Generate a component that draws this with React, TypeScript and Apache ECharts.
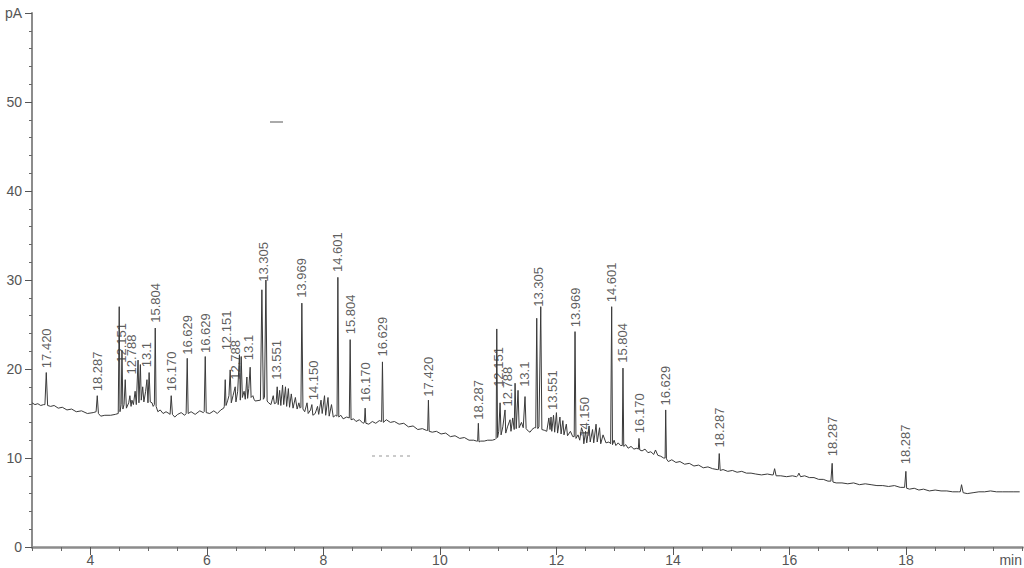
import React, { useEffect, useRef } from "react";
import * as echarts from "echarts";

// Detector signal (pA) vs retention time (min)
const trace: [number, number][] = [
  [3.0, 16.2], [3.05, 16.0], [3.1, 16.1], [3.15, 15.9], [3.2, 16.0],
  [3.222, 16.0], [3.245, 19.6], [3.268, 15.9],
  [3.32, 15.8], [3.38, 15.9], [3.45, 15.6], [3.52, 15.7], [3.6, 15.4], [3.68, 15.5], [3.76, 15.2], [3.85, 15.3], [3.95, 15.0], [4.05, 15.1],
  [4.1, 15.2], [4.12, 17.0], [4.14, 15.0],
  [4.18, 14.7], [4.25, 14.8], [4.35, 14.8], [4.43, 14.9],
  [4.48, 15.0], [4.497, 27.0], [4.51, 15.2], [4.53, 16.0], [4.544, 22.1], [4.56, 15.5], [4.58, 16.0], [4.6, 18.8], [4.62, 15.6],
  [4.66, 16.2], [4.68, 17.0], [4.7, 15.8], [4.715, 16.5], [4.74, 16.0], [4.77, 17.5], [4.79, 16.0], [4.82, 21.0], [4.835, 16.2],
  [4.86, 20.5], [4.875, 16.5], [4.9, 18.0], [4.92, 16.3], [4.95, 17.5], [4.973, 18.8], [4.99, 16.2], [5.01, 19.6], [5.03, 16.3],
  [5.06, 16.2], [5.08, 15.8],
  [5.1, 16.0], [5.115, 24.6], [5.13, 15.8],
  [5.16, 15.2], [5.2, 15.4], [5.25, 15.0], [5.3, 15.2], [5.35, 15.0],
  [5.37, 14.9], [5.389, 17.0], [5.41, 14.9],
  [5.45, 14.6], [5.5, 14.9], [5.56, 15.1], [5.62, 14.8],
  [5.645, 15.0], [5.664, 21.2], [5.68, 15.0],
  [5.73, 15.2], [5.8, 14.9], [5.88, 15.3], [5.94, 15.1],
  [5.955, 15.2], [5.973, 21.4], [5.99, 15.1],
  [6.05, 15.0], [6.12, 15.3], [6.18, 15.0], [6.24, 15.4], [6.29, 15.6],
  [6.3, 15.8], [6.316, 18.8], [6.33, 15.9], [6.36, 16.5], [6.38, 17.0], [6.401, 19.9], [6.42, 16.2], [6.45, 17.0], [6.487, 18.0],
  [6.5, 16.3], [6.53, 17.5], [6.56, 21.6], [6.575, 16.5], [6.59, 21.4], [6.61, 16.8], [6.64, 17.5], [6.66, 16.6], [6.688, 19.1],
  [6.7, 16.7], [6.72, 17.8], [6.744, 20.2], [6.76, 16.8], [6.79, 17.0], [6.81, 16.6], [6.83, 16.4],
  [6.92, 16.5], [6.945, 28.9], [6.97, 16.6], [6.99, 16.8], [7.014, 30.0], [7.035, 16.4],
  [7.06, 16.2], [7.1, 16.0], [7.14, 17.0], [7.16, 16.1],
  [7.19, 16.2], [7.208, 18.0], [7.225, 16.0],
  [7.25, 17.6], [7.27, 15.9], [7.3, 18.2], [7.32, 16.0], [7.35, 18.0], [7.37, 15.8], [7.4, 17.8], [7.42, 15.7], [7.45, 17.2],
  [7.48, 15.6], [7.52, 16.8], [7.55, 15.5], [7.58, 16.2], [7.6, 15.6],
  [7.615, 15.7], [7.631, 27.4], [7.65, 15.5],
  [7.68, 15.2], [7.72, 16.2], [7.74, 15.0], [7.78, 15.4], [7.803, 16.0], [7.82, 14.8], [7.86, 15.0], [7.9, 15.8], [7.92, 14.9],
  [7.96, 16.5], [7.98, 15.0], [8.02, 17.0], [8.04, 14.8], [8.08, 16.8], [8.1, 14.7], [8.14, 16.0], [8.17, 14.6], [8.21, 14.8],
  [8.235, 14.7], [8.249, 30.3], [8.265, 14.6],
  [8.3, 14.8], [8.34, 14.4], [8.4, 14.6],
  [8.445, 14.5], [8.46, 23.3], [8.475, 14.3],
  [8.52, 14.4], [8.56, 14.1], [8.62, 14.3], [8.68, 13.9],
  [8.705, 14.0], [8.717, 15.6], [8.73, 13.9],
  [8.78, 13.8], [8.84, 14.1], [8.9, 13.9], [8.96, 14.2],
  [9.0, 14.1], [9.014, 20.8], [9.03, 14.0],
  [9.08, 14.3], [9.15, 14.0], [9.22, 14.1], [9.3, 13.8], [9.38, 13.9], [9.46, 13.5], [9.54, 13.6], [9.62, 13.2], [9.7, 13.3], [9.77, 13.1],
  [9.79, 13.1], [9.803, 16.5], [9.816, 13.0],
  [9.87, 12.9], [9.94, 13.0], [10.02, 12.7], [10.1, 12.8], [10.18, 12.4], [10.26, 12.5], [10.34, 12.2], [10.42, 12.3], [10.5, 12.0], [10.58, 12.0], [10.63, 11.9],
  [10.648, 11.9], [10.66, 13.9], [10.672, 11.8],
  [10.7, 11.9], [10.76, 11.9], [10.82, 12.0], [10.9, 12.0], [10.95, 12.1],
  [10.965, 12.2], [10.976, 24.5], [10.99, 12.3], [11.01, 13.0], [11.033, 16.2], [11.05, 12.6], [11.08, 13.5], [11.118, 15.4], [11.13, 12.8],
  [11.16, 13.5], [11.204, 14.3], [11.22, 13.0], [11.25, 14.5], [11.275, 13.2], [11.29, 18.4], [11.31, 13.3], [11.341, 17.6], [11.36, 13.4],
  [11.4, 14.0], [11.43, 13.4], [11.461, 16.9], [11.48, 13.3], [11.52, 13.0], [11.547, 12.9], [11.58, 13.2], [11.62, 13.4],
  [11.645, 13.4], [11.662, 25.7], [11.68, 13.3], [11.7, 13.5], [11.731, 27.0], [11.75, 13.2],
  [11.8, 13.1], [11.834, 13.0],
  [11.87, 14.5], [11.89, 13.2], [11.907, 14.6], [11.92, 13.0], [11.95, 14.8], [11.97, 12.9], [12.0, 15.1], [12.02, 12.8], [12.06, 14.6],
  [12.08, 12.7], [12.11, 14.2], [12.13, 12.6], [12.17, 13.8], [12.19, 12.5], [12.24, 13.0], [12.28, 12.4],
  [12.305, 12.4], [12.319, 24.2], [12.335, 12.2],
  [12.37, 12.6], [12.4, 12.0], [12.43, 13.4], [12.456, 12.9], [12.47, 11.6], [12.5, 13.0], [12.52, 11.7], [12.56, 13.6], [12.58, 11.8],
  [12.62, 13.2], [12.64, 11.7], [12.68, 13.8], [12.7, 11.8], [12.74, 13.4], [12.76, 11.6], [12.8, 12.6], [12.85, 11.7], [12.9, 11.8], [12.93, 11.6],
  [12.935, 11.6], [12.948, 27.0], [12.962, 11.5],
  [12.99, 12.0], [13.02, 11.4], [13.06, 11.7], [13.1, 11.4],
  [13.13, 11.4], [13.142, 20.1], [13.155, 11.3],
  [13.19, 11.5], [13.23, 11.1], [13.28, 11.3], [13.33, 11.0], [13.38, 11.1],
  [13.405, 11.0], [13.417, 12.2], [13.43, 10.9],
  [13.47, 10.8], [13.52, 11.0], [13.57, 10.6], [13.62, 10.7], [13.67, 10.4], [13.7, 10.9], [13.74, 10.3], [13.79, 10.2], [13.84, 10.0],
  [13.865, 10.0], [13.875, 15.4], [13.888, 9.9],
  [13.92, 9.6], [13.98, 9.8], [14.05, 9.5], [14.12, 9.6], [14.2, 9.3], [14.28, 9.4], [14.36, 9.1], [14.44, 9.2], [14.52, 8.9], [14.6, 9.0], [14.68, 8.8], [14.76, 8.7],
  [14.78, 8.7], [14.794, 10.5], [14.81, 8.6],
  [14.86, 8.7], [14.94, 8.5], [15.02, 8.6], [15.1, 8.4], [15.18, 8.5], [15.26, 8.3], [15.34, 8.3], [15.42, 8.2], [15.52, 8.1], [15.62, 8.2], [15.7, 8.1],
  [15.72, 8.1], [15.744, 8.8], [15.77, 8.0],
  [15.85, 8.0], [15.95, 7.9], [16.05, 8.0], [16.12, 7.9],
  [16.14, 8.0], [16.161, 8.3], [16.19, 7.9],
  [16.26, 8.0], [16.34, 7.8], [16.42, 7.8], [16.5, 7.6], [16.58, 7.6], [16.66, 7.4], [16.71, 7.4],
  [16.72, 7.4], [16.732, 9.4], [16.745, 7.3],
  [16.8, 7.2], [16.9, 7.2], [17.0, 7.1], [17.1, 7.2], [17.2, 7.0], [17.3, 7.1], [17.4, 7.0], [17.5, 6.9], [17.6, 6.9], [17.7, 6.8], [17.8, 6.9], [17.9, 6.7], [17.975, 6.7],
  [17.985, 6.7], [17.997, 8.5], [18.01, 6.6],
  [18.06, 6.5], [18.14, 6.6], [18.22, 6.4], [18.3, 6.5], [18.4, 6.3], [18.5, 6.4], [18.6, 6.3], [18.7, 6.3], [18.8, 6.2], [18.9, 6.2],
  [18.93, 6.2], [18.952, 7.0], [18.98, 6.1],
  [19.05, 6.0], [19.15, 6.1], [19.25, 6.2], [19.35, 6.2], [19.45, 6.3], [19.55, 6.2], [19.65, 6.2], [19.75, 6.2], [19.85, 6.2], [19.95, 6.2],
];

// Peak annotations
const peakNames = [
  "17.420", "18.287", "12.151", "12.788", "13.1", "15.804", "16.170", "16.629", "16.629",
  "12.151", "12.788", "13.1", "13.305", "13.551", "13.969", "14.150", "14.601", "15.804", "16.170", "16.629",
  "17.420", "18.287", "12.151", "12.788", "13.1", "13.305", "13.551", "13.969", "14.150", "14.601", "15.804", "16.170", "16.629",
  "18.287", "18.287", "18.287",
];
const peakTimes = [
  3.245, 4.12, 4.53, 4.715, 4.973, 5.115, 5.389, 5.664, 5.973,
  6.34, 6.487, 6.71, 6.975, 7.2, 7.631, 7.825, 8.249, 8.46, 8.717, 9.014,
  9.803, 10.66, 11.0, 11.16, 11.46, 11.7, 11.93, 12.319, 12.49, 12.948, 13.142, 13.417, 13.875,
  14.794, 16.732, 17.997,
];
const peakHeights = [
  19.7, 17.1, 20.3, 19.0, 19.8, 24.8, 17.1, 21.2, 21.4,
  21.7, 18.4, 20.6, 29.4, 18.4, 27.6, 16.1, 30.5, 23.5, 15.9, 21.0,
  16.5, 13.9, 17.6, 15.4, 17.6, 26.6, 15.0, 24.3, 12.0, 27.1, 20.3, 12.4, 15.5,
  10.8, 9.8, 8.9,
];

const xTickLabels = [4, 6, 8, 10, 12, 14, 16, 18];
const yTickLabels = [0, 10, 20, 30, 40, 50];
const xUnit = "min";
const yUnit = "pA";

const FONT = "'Liberation Sans', Arial, sans-serif";

export default function App() {
  const ref = useRef<HTMLDivElement>(null);

  useEffect(() => {
    if (!ref.current) return;
    const chart = echarts.init(ref.current, null, { renderer: "svg" });
    chart.setOption({
      animation: false,
      backgroundColor: "#ffffff",
      grid: { left: 32, right: 1.4, top: 13, bottom: 21, outerBoundsMode: "none", containLabel: false },
      xAxis: [
        {
          type: "value",
          min: 3,
          max: 20,
          interval: 0.5,
          axisLine: { show: true, lineStyle: { color: "#8c8c8c", width: 2.5 } },
          axisTick: { show: true, length: 4, lineStyle: { color: "#666" } },
          axisLabel: { show: false },
          splitLine: { show: false },
        },
        {
          type: "value",
          min: 3,
          max: 20,
          position: "bottom",
          axisLine: { show: false },
          axisTick: { show: true, customValues: xTickLabels, length: 8, lineStyle: { color: "#555" } },
          axisLabel: {
            customValues: xTickLabels,
            color: "#555",
            fontSize: 14,
            lineHeight: 14,
            margin: 6,
            fontFamily: FONT,
          },
          splitLine: { show: false },
        },
      ],
      yAxis: {
        type: "value",
        min: 0,
        max: 60,
        interval: 10,
        axisLine: { show: true, lineStyle: { color: "#8c8c8c", width: 2 } },
        axisTick: { show: true, length: 7, lineStyle: { color: "#555" } },
        minorTick: { show: true, splitNumber: 5, length: 3, lineStyle: { color: "#666" } },
        axisLabel: {
          color: "#555",
          fontSize: 14,
          margin: 10,
          fontFamily: FONT,
          formatter: (v: number) => (v === 60 ? yUnit : yTickLabels.includes(v) ? String(v) : ""),
        },
        splitLine: { show: false },
      },
      graphic: [
        {
          type: "text",
          right: 2,
          top: 553,
          style: { text: xUnit, fill: "#555", font: `14px ${FONT}` },
        },
        { type: "line", shape: { x1: 270, y1: 122, x2: 283, y2: 122 }, style: { stroke: "#aaa", lineWidth: 2 } },
        { type: "line", shape: { x1: 372, y1: 456, x2: 412, y2: 456 }, style: { stroke: "#bbb", lineWidth: 1.5, lineDash: [3, 4] } },
      ],
      series: [
        {
          type: "line",
          xAxisIndex: 0,
          data: trace,
          showSymbol: false,
          silent: true,
          lineStyle: { color: "#3a3a3a", width: 1 },
        },
        {
          type: "scatter",
          xAxisIndex: 0,
          data: peakNames.map((n, i) => ({ name: n, value: [peakTimes[i], peakHeights[i]] })),
          symbolSize: 1,
          silent: true,
          itemStyle: { color: "rgba(0,0,0,0)" },
          label: {
            show: true,
            formatter: "{b}",
            position: "top",
            distance: 3,
            rotate: 90,
            align: "left",
            verticalAlign: "middle",
            fontSize: 13,
            color: "#333",
            fontFamily: FONT,
          },
        },
      ],
    });
    return () => chart.dispose();
  }, []);

  return (
    <div
      ref={ref}
      style={{ position: "fixed", left: 0, top: 0, width: 1024, height: 568, background: "#fff" }}
    />
  );
}
